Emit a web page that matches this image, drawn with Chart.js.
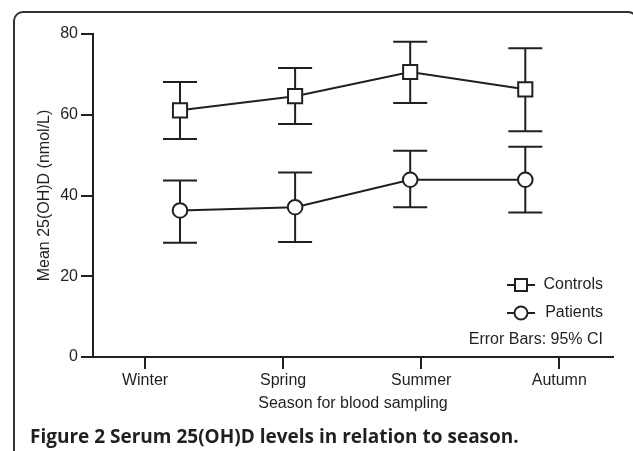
<!DOCTYPE html>
<html lang="en">
<head>
  <meta charset="UTF-8" />
  <title>Serum 25(OH)D levels in relation to season</title>
  <script src="https://cdn.jsdelivr.net/npm/chart.js"></script>
  <style>
    html, body { margin: 0; padding: 0; background: #fff; }
    body { width: 633px; height: 451px; position: relative; overflow: hidden; }
    #frame { position: absolute; left: 13px; top: 11px; width: 625px; height: 500px;
             border: 2px solid #333; border-radius: 10px; box-sizing: border-box; }
    #wrap { position: absolute; left: 0; top: 0; width: 633px; height: 451px; }
    #caption { position: absolute; left: 30px; top: 423px; font: bold 19px "Open Sans", sans-serif;
               color: #231f20; white-space: nowrap; }
  </style>
</head>
<body>
<div id="frame"></div>
<div id="wrap"><canvas id="chart" width="633" height="451"></canvas></div>
<div id="caption">Figure 2 Serum 25(OH)D levels in relation to season.</div>

<script>
const seasons = ['Winter', 'Spring', 'Summer', 'Autumn'];
const controlsMean = [61.1, 64.6, 70.6, 66.3];
const controlsLow  = [54.0, 57.7, 62.9, 55.9];
const controlsHigh = [68.1, 71.6, 78.1, 76.5];
const patientsMean = [36.3, 37.1, 43.9, 43.9];
const patientsLow  = [28.3, 28.5, 37.1, 35.8];
const patientsHigh = [43.7, 45.7, 51.1, 52.1];
const yTicks = [0, 20, 40, 60, 80];

const ink = '#231f20';
const font = { family: '"Liberation Sans", Arial, sans-serif', size: 16 };

// vertical 95% CI bars with caps, drawn under the markers
const errorBars = {
  id: 'errorBars',
  beforeDatasetsDraw(chart) {
    const { ctx, scales } = chart;
    ctx.save();
    ctx.strokeStyle = ink;
    ctx.lineWidth = 2;
    chart.data.datasets.forEach(ds => {
      ds.data.forEach((p, i) => {
        const x = scales.x2.getPixelForValue(p.x);
        const y1 = scales.y.getPixelForValue(ds.low[i]);
        const y2 = scales.y.getPixelForValue(ds.high[i]);
        ctx.beginPath();
        ctx.moveTo(x, y1); ctx.lineTo(x, y2);
        ctx.moveTo(x - 17, y1); ctx.lineTo(x + 17, y1);
        ctx.moveTo(x - 17, y2); ctx.lineTo(x + 17, y2);
        ctx.stroke();
      });
    });
    ctx.restore();
  }
};

// legend in the lower right corner of the plot
const cornerLegend = {
  id: 'cornerLegend',
  afterDraw(chart) {
    const { ctx } = chart;
    const right = 603, rows = [285, 313];
    ctx.save();
    ctx.font = `${font.size}px ${font.family}`;
    ctx.fillStyle = ink;
    ctx.textAlign = 'right';
    ctx.textBaseline = 'middle';
    chart.data.datasets.forEach((ds, i) => {
      const y = rows[i];
      ctx.strokeStyle = ink;
      ctx.lineWidth = 2;
      ctx.beginPath(); ctx.moveTo(507, y); ctx.lineTo(535, y); ctx.stroke();
      ctx.fillStyle = '#fff';
      ctx.beginPath();
      if (ds.pointStyle === 'rect') ctx.rect(515, y - 6, 12, 12);
      else ctx.arc(521, y, 6.5, 0, Math.PI * 2);
      ctx.fill(); ctx.stroke();
      ctx.fillStyle = ink;
      ctx.fillText(ds.label, right, y);
    });
    ctx.fillText('Error Bars: 95% CI', right, 340);
    ctx.restore();
  }
};

function series(label, mean, low, high, style, radius) {
  return {
    label, low, high,
    data: mean.map((v, i) => ({ x: i, y: v })),
    xAxisID: 'x2',
    borderColor: ink, borderWidth: 2,
    pointStyle: style, pointRadius: radius, pointHoverRadius: radius,
    pointBackgroundColor: '#fff', pointBorderColor: ink, pointBorderWidth: 2,
    fill: false, tension: 0
  };
}

new Chart(document.getElementById('chart'), {
  type: 'line',
  data: {
    datasets: [
      series('Controls', controlsMean, controlsLow, controlsHigh, 'rect', 10),
      series('Patients', patientsMean, patientsLow, patientsHigh, 'circle', 7.3)
    ]
  },
  options: {
    responsive: false,
    animation: false,
    events: [],
    layout: { padding: { left: 0, top: 34, right: 20, bottom: 0 } },
    plugins: { legend: { display: false }, tooltip: { enabled: false } },
    scales: {
      x: {
        type: 'linear', min: -0.3765, max: 3.389,
        afterBuildTicks: s => { s.ticks = seasons.map((_, i) => ({ value: i })); },
        afterFit: s => { s.height = 94; },
        ticks: { callback: v => seasons[v], color: ink, font, padding: 2, maxRotation: 0 },
        grid: { drawOnChartArea: false, drawTicks: true, tickLength: 12, color: ink, lineWidth: 2 },
        border: { display: true, color: ink, width: 2 },
        title: { display: true, text: 'Season for blood sampling', color: ink, font, padding: { top: 0, bottom: 38 } }
      },
      x2: { type: 'linear', display: false, min: -0.756, max: 3.762 },
      y: {
        min: 0, max: 80,
        afterBuildTicks: s => { s.ticks = yTicks.map(v => ({ value: v })); },
        afterFit: s => { s.width = 93; },
        ticks: { color: ink, font, padding: 3 },
        grid: { drawOnChartArea: false, drawTicks: true, tickLength: 12, color: ink, lineWidth: 2 },
        border: { display: true, color: ink, width: 2 },
        title: { display: true, text: 'Mean 25(OH)D (nmol/L)', color: ink, font, padding: { top: 35, bottom: 0 } }
      }
    }
  },
  plugins: [errorBars, cornerLegend]
});
</script>
</body>
</html>
